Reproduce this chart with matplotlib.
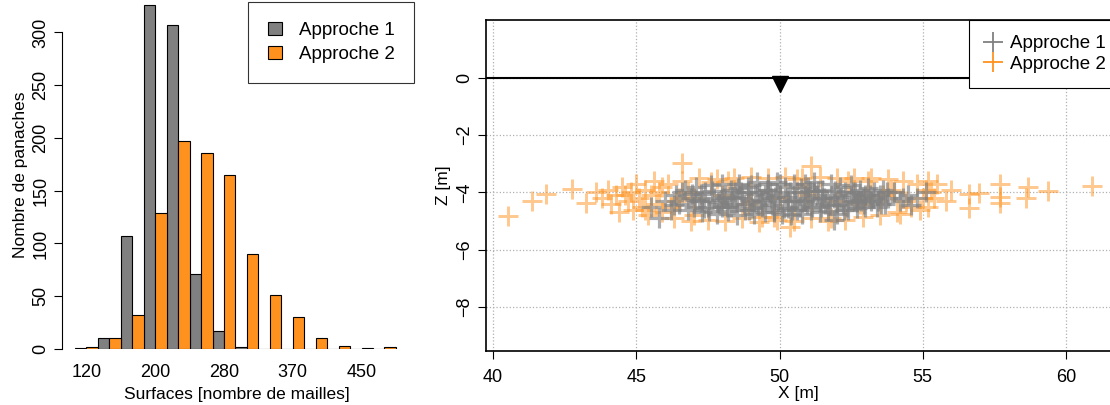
import matplotlib
matplotlib.use('Agg')
import matplotlib.pyplot as plt
import numpy as np

# --- histogram (surfaces des panaches) ---
n_bins = 14
tick_pos = [0, 3, 6, 9, 12]
tick_labels = ['120', '200', '280', '370', '450']
counts_a1 = [1, 10, 107, 326, 307, 71, 17, 2, 0, 0, 0, 0, 0, 0]
counts_a2 = [2, 10, 32, 129, 197, 186, 165, 90, 51, 30, 10, 3, 1, 2]
y_ticks = [0, 50, 100, 150, 200, 250, 300]

# --- positions des centres de masse (X, Z) ---
a1_x = [46.0, 46.2, 46.4, 46.5, 46.7, 46.8, 46.9, 47.0, 47.1, 47.2, 47.3, 47.4, 47.5, 47.6,
        47.7, 47.8, 47.9, 48.0, 48.1, 48.2, 48.3, 48.4, 48.5, 48.6, 48.7, 48.8, 48.9, 49.0,
        49.1, 49.2, 49.3, 49.4, 49.5, 49.6, 49.7, 49.8, 49.9, 50.0, 50.1, 50.2, 50.3, 50.4,
        50.5, 50.6, 50.7, 50.8, 50.9, 51.0, 51.1, 51.2, 51.3, 51.4, 51.5, 51.6, 51.7, 51.8,
        51.9, 52.0, 52.1, 52.2, 52.3, 52.4, 52.5, 52.6, 52.7, 52.8, 52.9, 53.0, 53.1, 53.2,
        53.3, 53.4, 53.5, 53.6, 53.7, 53.8, 54.0, 54.2, 54.5, 54.8, 55.1, 45.8, 51.9, 47.3,
        48.5, 49.5, 50.5, 51.5, 52.5, 49.0, 50.0, 51.0, 49.8, 50.6, 48.0, 52.0, 53.0, 48.9,
        49.4, 50.3, 51.2, 50.9, 49.6, 48.3, 52.7,
        46.3, 46.6, 47.05, 47.35, 47.65, 47.95, 48.15, 48.35, 48.55, 48.75, 48.95, 49.15,
        49.35, 49.55, 49.75, 49.95, 50.15, 50.35, 50.55, 50.75, 50.95, 51.15, 51.35, 51.55,
        51.75, 51.95, 52.15, 52.35, 52.55, 52.75, 52.95, 53.15, 53.45, 53.75, 47.25, 47.85,
        48.45, 49.05, 49.65, 50.25, 50.85, 51.45, 52.05, 52.65, 53.25, 48.05, 48.65, 49.25,
        49.85, 50.45, 51.05, 51.65, 52.25, 52.85, 46.95, 47.55, 53.55, 54.3, 54.6, 45.5]
a1_z = [-4.3, -4.6, -4.1, -4.4, -3.9, -4.6, -4.2, -4.5, -3.8, -4.3, -4.7, -4.0, -4.5, -3.75,
        -4.2, -4.75, -4.4, -3.7, -4.1, -4.65, -3.9, -4.4, -4.8, -3.7, -4.2, -4.6, -3.8, -4.3,
        -4.75, -3.65, -4.0, -4.5, -4.7, -3.7, -4.2, -4.6, -3.65, -4.1, -4.75, -3.8, -4.3, -4.8,
        -3.7, -4.0, -4.5, -4.75, -3.7, -4.2, -4.6, -3.65, -4.1, -4.7, -3.9, -4.4, -4.65, -3.7,
        -4.2, -4.75, -3.8, -4.4, -4.0, -4.6, -3.75, -4.3, -4.55, -3.9, -4.2, -4.5, -3.85, -4.3,
        -4.0, -4.5, -4.1, -3.9, -4.4, -4.2, -4.0, -4.3, -4.1, -4.2, -4.0, -4.9, -4.97, -4.3,
        -4.2, -4.1, -4.3, -4.2, -4.1, -3.75, -3.7, -3.8, -4.7, -4.6, -4.5, -4.45, -4.1, -4.0,
        -4.35, -4.55, -3.95, -4.3, -3.9, -4.5, -4.35,
        -4.45, -4.0, -4.25, -4.55, -3.95, -4.25, -4.5, -4.15, -3.85, -4.4, -4.6, -4.05,
        -4.25, -3.9, -4.45, -4.3, -4.55, -4.0, -4.25, -3.85, -4.4, -4.5, -3.95, -4.2,
        -4.45, -3.95, -4.15, -4.5, -4.0, -4.25, -4.4, -4.1, -4.3, -4.0, -4.05, -4.35,
        -4.0, -4.55, -4.0, -4.15, -4.3, -4.5, -4.1, -4.0, -4.2, -4.2, -4.0, -4.45,
        -4.15, -4.6, -3.95, -4.3, -4.6, -4.3, -4.05, -4.65, -4.4, -4.2, -4.45, -4.5]

a2_x = [40.53, 41.37, 41.85, 42.77, 43.25, 46.6, 51.1, 50.37, 55.2, 56.6, 56.6, 56.97, 57.7,
        57.7, 57.7, 58.69, 58.6, 59.38, 60.9, 56.0, 55.8, 55.5,
        43.6, 43.8, 44.0, 44.1, 44.3, 44.4, 44.5, 44.7, 44.8, 44.9, 45.0, 45.1, 45.2, 45.3,
        45.4, 45.5, 45.6, 45.7, 45.8, 45.9,
        46.1, 46.3, 46.6, 46.9, 47.2, 47.5, 47.8, 48.1, 48.4, 48.7, 49.0, 49.3, 49.6, 49.9,
        50.2, 50.5, 50.8, 51.1, 51.4, 51.7, 52.0, 52.3, 52.6, 52.9, 53.2, 53.5, 53.8, 54.1,
        54.3, 54.6, 54.8, 55.0, 55.1, 55.3, 54.0, 53.0, 52.0, 51.0, 50.0, 49.0, 48.0, 47.0,
        46.5, 54.4, 53.6, 46.2, 45.9, 54.9, 55.2, 47.0, 48.2, 49.4, 50.6, 51.8, 53.1, 54.2,
        46.8, 48.9, 50.9, 52.8, 53.9, 55.4, 44.6, 45.3, 46.4, 47.6, 49.8, 52.4]
a2_z = [-4.81, -4.29, -4.07, -3.88, -4.36, -2.98, -3.07, -5.22, -4.5, -4.53, -4.05, -4.03, -3.72,
        -4.15, -4.38, -3.8, -4.18, -3.95, -3.78, -3.9, -4.3, -3.7,
        -4.0, -4.2, -3.9, -4.4, -4.1, -4.7, -3.8, -4.3, -4.0, -4.6, -3.7, -4.2, -4.5, -3.9,
        -4.8, -4.1, -3.6, -4.4, -4.0, -4.7,
        -3.7, -4.9, -3.6, -5.0, -3.5, -4.95, -3.55, -5.0, -3.5, -4.9, -3.45, -5.05, -3.5, -4.95,
        -3.45, -5.0, -3.5, -4.9, -3.45, -5.0, -3.5, -4.95, -3.5, -4.85, -3.5, -4.8, -3.55, -4.7,
        -3.6, -4.5, -3.7, -4.2, -3.9, -4.0, -4.0, -4.2, -4.3, -4.1, -4.2, -4.3, -4.1, -4.2,
        -4.2, -4.3, -4.1, -4.5, -3.8, -4.6, -3.6, -4.8, -3.6, -4.85, -3.55, -4.9, -3.6, -4.75,
        -4.0, -4.4, -4.0, -4.4, -3.9, -4.2, -4.1, -4.6, -4.3, -3.65, -4.85, -3.6]

x_ticks = [40, 45, 50, 55, 60]
z_ticks = [0, -2, -4, -6, -8]
surface_z = 0.0
source_x, source_z = 50.0, -0.2

grey = '#808080'
orange = '#ff921e'
plt.rcParams['font.family'] = ['Liberation Sans', 'DejaVu Sans']

fig = plt.figure(figsize=(11.1, 4.05), dpi=100)

# ---------------- histogramme ----------------
ax1 = fig.add_axes([62 / 1110, 56 / 405, 350 / 1110, 349 / 405])
idx = np.arange(n_bins)
ax1.bar(idx - 0.25, counts_a1, 0.5, color=grey, edgecolor='black', linewidth=0.8,
        label='Approche 1')
ax1.bar(idx + 0.25, counts_a2, 0.5, color=orange, edgecolor='black', linewidth=0.8,
        label='Approche 2')
ax1.set_xlim(-1.067, 14.2)
ax1.set_ylim(0, 330.8)
for s in ['top', 'right', 'bottom']:
    ax1.spines[s].set_visible(False)
ax1.spines['left'].set_bounds(0, 300)
ax1.spines['left'].set_linewidth(0.8)
ax1.set_yticks(y_ticks)
ax1.set_yticklabels([str(v) for v in y_ticks], rotation=90, va='center', fontsize=13)
ax1.tick_params(axis='y', direction='out', length=6, width=0.8, pad=3)
ax1.set_xticks(tick_pos)
ax1.set_xticklabels(tick_labels, fontsize=13)
ax1.tick_params(axis='x', length=0, pad=11)
ax1.set_xlabel('Surfaces [nombre de mailles]', fontsize=12.5, labelpad=4)
ax1.set_ylabel('Nombre de panaches', fontsize=12.5, labelpad=3)
leg1 = ax1.legend(loc='upper left', bbox_to_anchor=(248 / 1110, 1 - 2 / 405),
                  bbox_transform=fig.transFigure, fontsize=13.5, frameon=True,
                  fancybox=False, edgecolor='black', handlelength=0.75, handleheight=0.75,
                  labelspacing=0.35, borderpad=1.05, handletextpad=0.9, borderaxespad=0)
leg1.get_frame().set_linewidth(0.8)

# ---------------- positions X-Z ----------------
narrow = ['Liberation Sans Narrow', 'Liberation Sans', 'DejaVu Sans']
ax2 = fig.add_axes([486 / 1110, 54 / 405, 1 - 486 / 1110, 331 / 405])
ax2.set_xlim(39.75, 61.54)
ax2.set_ylim(-9.55, 2.03)
ax2.grid(True, color='#b0b0b0', linestyle=':', linewidth=0.9)
ax2.set_axisbelow(True)
ax2.axhline(surface_z, color='black', linewidth=1.5, zorder=3)
ax2.plot(a2_x, a2_z, linestyle='none', marker='+', markersize=15, mew=2.1,
         color=orange, alpha=0.5, zorder=4)
ax2.plot(a1_x, a1_z, linestyle='none', marker='+', markersize=15, mew=2.3,
         color=grey, alpha=0.65, zorder=5)
ax2.plot([source_x], [source_z], linestyle='none', marker='v', markersize=12,
         color='black', zorder=6)
ax2.spines['right'].set_visible(False)
for s in ['top', 'left', 'bottom']:
    ax2.spines[s].set_linewidth(1.2)
ax2.set_xticks(x_ticks)
ax2.set_xticklabels([str(v) for v in x_ticks], fontsize=13, family=narrow)
ax2.set_yticks(z_ticks)
ax2.set_yticklabels(['0', '\u22122', '\u22124', '\u22126', '\u22128'], rotation=90,
                    va='center', fontsize=13, family=narrow)
ax2.tick_params(axis='x', direction='out', length=6, width=0.8, pad=7)
ax2.tick_params(axis='y', direction='out', length=6, width=0.8, pad=3)
ax2.set_xlabel('X [m]', fontsize=12.5, family=narrow, labelpad=0)
ax2.set_ylabel('Z [m]', fontsize=12.5, family=narrow, labelpad=4)

h1, = ax2.plot([], [], linestyle='none', marker='+', markersize=15, mew=1.3, color=grey)
h2, = ax2.plot([], [], linestyle='none', marker='+', markersize=15, mew=1.3, color=orange)
leg2 = ax2.legend([h1, h2], ['Approche 1', 'Approche 2'], loc='upper left',
                  bbox_to_anchor=(969 / 1110, 1 - 20 / 405), bbox_transform=fig.transFigure,
                  prop={'family': narrow, 'size': 13.5}, frameon=True, fancybox=False,
                  edgecolor='black', framealpha=1, handlelength=1.0, handletextpad=0.4,
                  labelspacing=0.2, borderpad=0.8, borderaxespad=0)
leg2.get_frame().set_linewidth(0.8)

fig.savefig('out.png', dpi=100)
